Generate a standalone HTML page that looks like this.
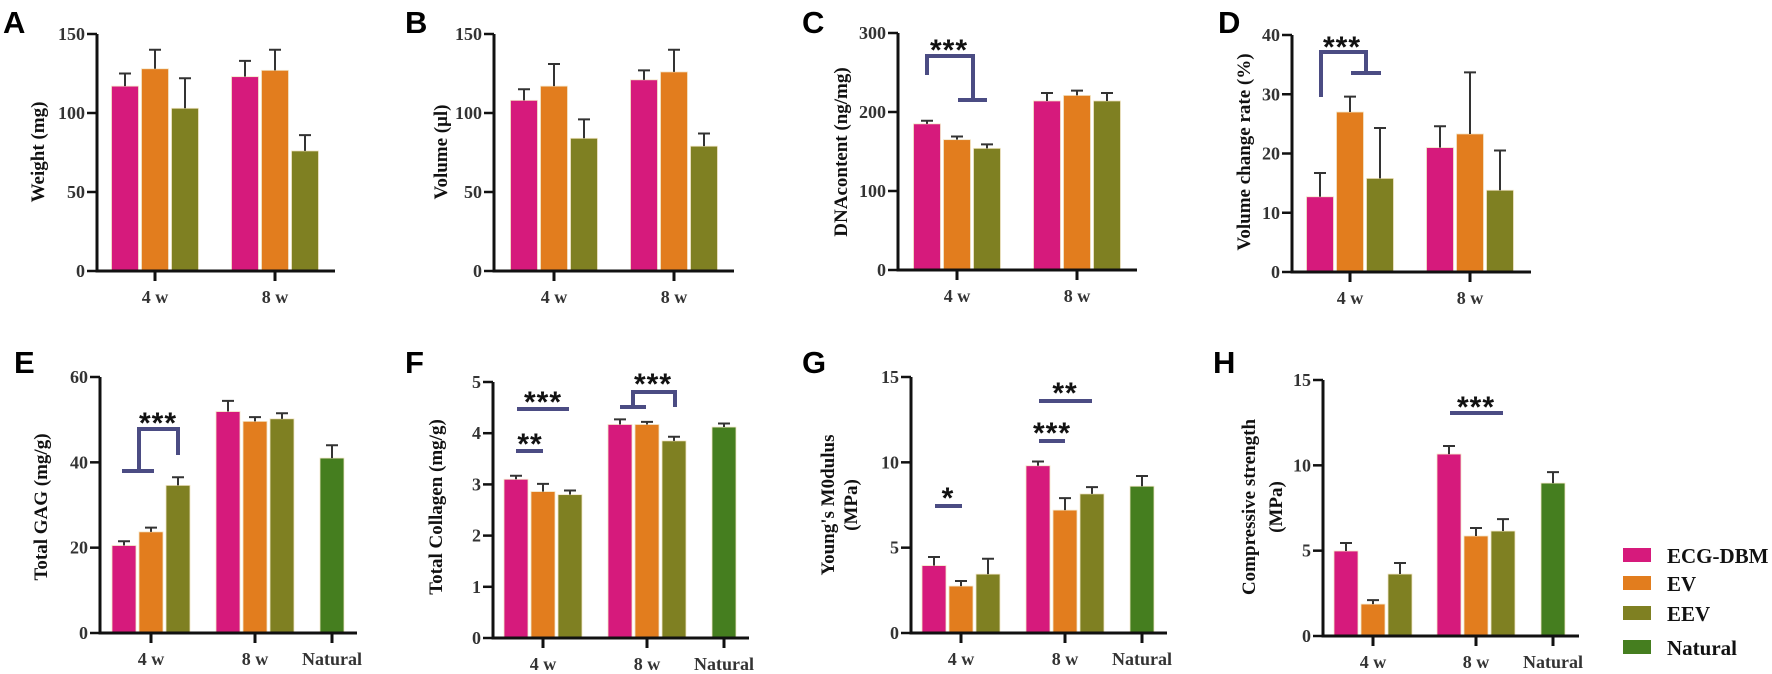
<!DOCTYPE html>
<html><head><meta charset="utf-8"><style>
html,body{margin:0;padding:0;background:#fff;}
svg{display:block;}
.tk{font-family:"Liberation Serif",serif;font-weight:bold;font-size:18px;fill:#333;}
.tt{font-family:"Liberation Serif",serif;font-weight:bold;font-size:19px;fill:#111;}
.pl{font-family:"Liberation Sans",sans-serif;font-weight:bold;font-size:31px;fill:#000;}
.st{font-family:"Liberation Sans",sans-serif;font-weight:bold;font-size:30px;fill:#111;letter-spacing:1px;}
.lg{font-family:"Liberation Serif",serif;font-weight:bold;font-size:21px;fill:#111;}
</style></head><body>
<svg id="fig" width="1772" height="674" xmlns="http://www.w3.org/2000/svg"></svg>
<script>
// ---- data ----
const catsTop = ["4 w","8 w"];
const catsBot = ["4 w","8 w","Natural"];
const seriesNames = ["ECG-DBM","EV","EEV","Natural"];
const A_means=[[117,128,103],[123,127,76]];
const A_errs=[[8,12,19],[10,13,10]];
const B_means=[[108,117,84],[121,126,79]];
const B_errs=[[7,14,12],[6,14,8]];
const C_means=[[185,165,154],[214,221,214]];
const C_errs=[[4,4,5],[10,6,10]];
const D_means=[[12.7,27,15.8],[21,23.3,13.8]];
const D_errs=[[4,2.6,8.5],[3.6,10.4,6.7]];
const E_means=[[20.5,23.7,34.6],[51.9,49.6,50.2],[41]];
const E_errs=[[1,1,1.9],[2.5,1,1.3],[3]];
const F_means=[[3.1,2.86,2.8],[4.17,4.17,3.85],[4.12]];
const F_errs=[[0.07,0.15,0.08],[0.1,0.05,0.08],[0.07]];
const G_means=[[3.95,2.75,3.45],[9.8,7.2,8.15],[8.6]];
const G_errs=[[0.5,0.3,0.9],[0.25,0.7,0.4],[0.6]];
const H_means=[[4.98,1.87,3.63],[10.66,5.86,6.15],[8.96]];
const H_errs=[[0.47,0.23,0.65],[0.47,0.47,0.7],[0.64]];
const A_ticks=[0,50,100,150], B_ticks=[0,50,100,150], C_ticks=[0,100,200,300], D_ticks=[0,10,20,30,40];
const E_ticks=[0,20,40,60], F_ticks=[0,1,2,3,4,5], G_ticks=[0,5,10,15], H_ticks=[0,5,10,15];

const colors=["#d61a7c","#e27d1e","#7f8022","#457e1f"];
const sigC="#4b4c83";
const NS="http://www.w3.org/2000/svg";
const svg=document.getElementById('fig');
function mk(tag,attrs,parent){const e=document.createElementNS(NS,tag);for(const k in attrs)e.setAttribute(k,attrs[k]);(parent||svg).appendChild(e);return e;}

const panels=[
 {id:"a",letter:"A",lx:3,ly:33,ax:97,top:34,bot:271,xend:335,ymax:150,ticks:A_ticks,cats:catsTop,means:A_means,errs:A_errs,title:["Weight (mg)"],tx:[37],ty:152,off:58,step:120,bw:27,bs:30},
 {id:"b",letter:"B",lx:405,ly:33,ax:494,top:34,bot:271,xend:734,ymax:150,ticks:B_ticks,cats:catsTop,means:B_means,errs:B_errs,title:["Volume (μl)"],tx:[440],ty:152,off:60,step:120,bw:27,bs:30},
 {id:"c",letter:"C",lx:802,ly:33,ax:898,top:33,bot:270,xend:1137,ymax:300,ticks:C_ticks,cats:catsTop,means:C_means,errs:C_errs,title:["DNAcontent (ng/mg)"],tx:[840],ty:152,off:59,step:120,bw:27,bs:30},
 {id:"d",letter:"D",lx:1218,ly:33,ax:1292,top:35,bot:272,xend:1531,ymax:40,ticks:D_ticks,cats:catsTop,means:D_means,errs:D_errs,title:["Volume change rate (%)"],tx:[1243],ty:152,off:58,step:120,bw:27,bs:30},
 {id:"e",letter:"E",lx:14,ly:373,ax:100,top:377,bot:633,xend:357,ymax:60,ticks:E_ticks,cats:catsBot,means:E_means,errs:E_errs,title:["Total GAG (mg/g)"],tx:[40],ty:507,xt:[51,155,232],bw:24,bs:27},
 {id:"f",letter:"F",lx:405,ly:373,ax:493,top:382,bot:638,xend:749,ymax:5,ticks:F_ticks,cats:catsBot,means:F_means,errs:F_errs,title:["Total Collagen (mg/g)"],tx:[435],ty:507,xt:[50,154,231],bw:24,bs:27},
 {id:"g",letter:"G",lx:802,ly:373,ax:911,top:377,bot:633,xend:1167,ymax:15,ticks:G_ticks,cats:catsBot,means:G_means,errs:G_errs,title:["Young's M0dulus","(MPa)"],tx:[827,850],ty:505,xt:[50,154,231],bw:24,bs:27},
 {id:"h",letter:"H",lx:1213,ly:373,ax:1323,top:380,bot:636,xend:1579,ymax:15,ticks:H_ticks,cats:catsBot,means:H_means,errs:H_errs,title:["Compressive strength","(MPa)"],tx:[1248,1275],ty:507,xt:[50,153,230],bw:24,bs:27}
];
const P={};
panels.forEach(p=>{
 const g=mk('g',{});
 
 
 p.y=v=>p.bot-(v/p.ymax)*(p.bot-p.top);
 p.tickX=i=>p.ax+(p.xt?p.xt[i]:p.off+i*p.step);
 p.barX=(i,j)=>{const n=p.means[i].length;return p.tickX(i)+(j-(n-1)/2)*p.bs;};
 P[p.id]=p;
 const lt=mk('text',{x:p.lx,y:p.ly,class:'pl'},g);lt.textContent=p.letter;
 
 
 // bars
 p.means.forEach((grp,i)=>grp.forEach((m,j)=>{
   const cx=p.barX(i,j);const ci=grp.length===1?3:j;
   const r=mk('rect',{x:cx-p.bw/2,y:p.y(m),width:p.bw,height:p.bot-p.y(m),fill:colors[ci],stroke:'#f3e6c8','stroke-width':0.8},g);
   
   
   const e=p.errs[i][j];
   const eb=mk('path',{d:`M${cx} ${p.y(m)}V${p.y(m+e)}M${cx-6} ${p.y(m+e)}H${cx+6}`,stroke:'#333','stroke-width':2,fill:'none'},g);
   
   
 }));
 // axes
 const ax=mk('path',{d:`M${p.ax} ${p.top}V${p.bot}H${p.xend}`,stroke:'#111','stroke-width':3,fill:'none'},g);
 
 
 p.ticks.forEach(t=>{
   mk('line',{x1:p.ax-10,x2:p.ax,y1:p.y(t),y2:p.y(t),stroke:'#111','stroke-width':2.5},g);
   const tx=mk('text',{x:p.ax-12,y:p.y(t)+6,class:'tk','text-anchor':'end'},g);tx.textContent=t;
   
   
 });
 p.cats.forEach((c,i)=>{
   const x=p.tickX(i);
   mk('line',{x1:x,x2:x,y1:p.bot,y2:p.bot+10,stroke:'#111','stroke-width':3},g);
   const tx=mk('text',{x:x,y:p.bot+32,class:'tk','text-anchor':'middle'},g);tx.textContent=c;
   
   
 });
 p.title.forEach((t,k)=>{
   const tt=mk('text',{x:p.tx[k],y:p.ty,class:'tt','text-anchor':'middle',transform:`rotate(-90 ${p.tx[k]} ${p.ty})`,dy:'7'},g);tt.textContent=t;
   
   
 });
});
// significance annotations (pixel placement via data scales)
function sig(d,stars,sx,sy){
 const pa=mk('path',{d:d,stroke:sigC,'stroke-width':4,fill:'none'});
 
 
 const t=mk('text',{x:sx,y:sy,class:'st','text-anchor':'middle'});t.textContent=stars;
 
 
}
sig("M927 75V56H973V100M958 100H987","***",949,60);
sig("M1321 97V52H1366V73M1351 73H1381","***",1342,57);
sig("M122 471H154M139 471V429H178V455","***",158,433);
sig("M517 409H569","***",543,412);
sig("M516 451H543","**",530,454);
sig("M620 407H646M633 407V392H675V407","***",653,394);
sig("M935 506H962","*",948,508);
sig("M1039 401H1092","**",1065,403);
sig("M1039 441H1065","***",1052,443);
sig("M1450 413H1503","***",1476,417);
// legend
const legY=[555,583,613,647];
seriesNames.forEach((n,i)=>{
 const r=mk('rect',{x:1623,y:legY[i]-7,width:28,height:14,fill:colors[i]});
 
 
 const t=mk('text',{x:1667,y:legY[i]+8,class:'lg'});t.textContent=n;
 
 
});
</script>
</body></html>
